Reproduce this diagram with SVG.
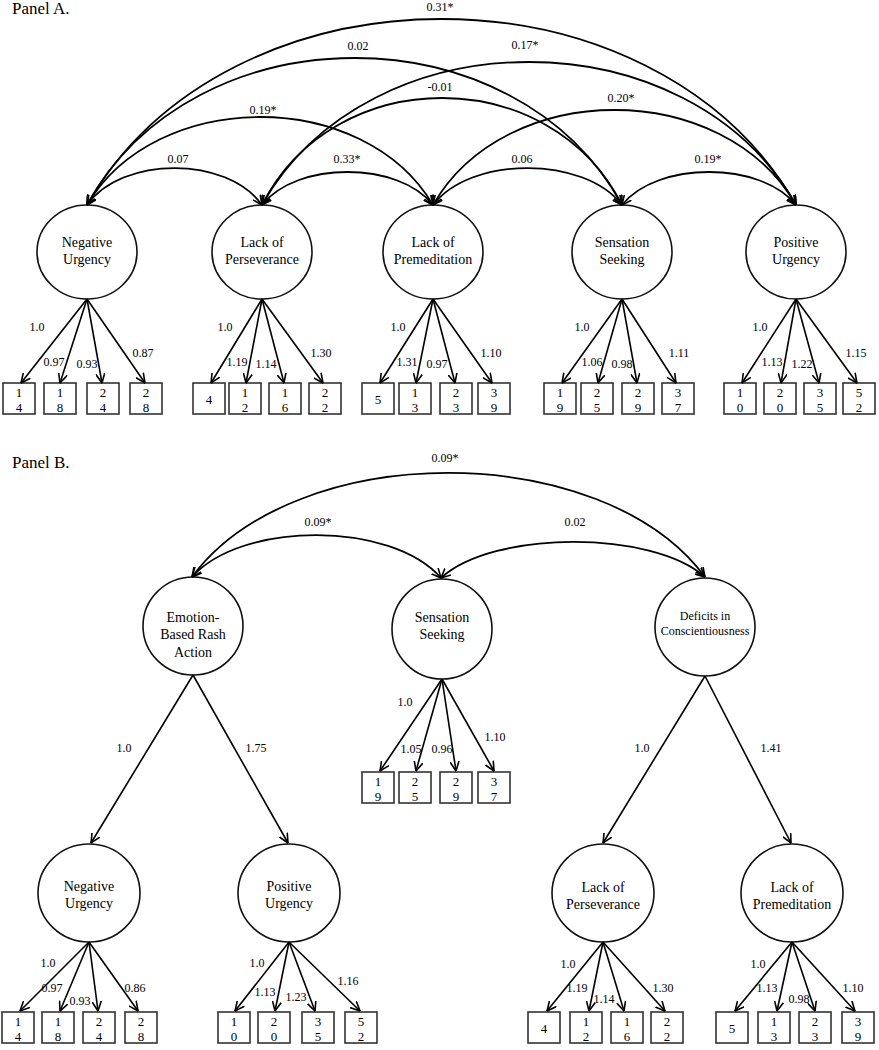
<svg xmlns="http://www.w3.org/2000/svg" width="879" height="1050" viewBox="0 0 879 1050">
<style>
text{font-family:"Liberation Serif","Times New Roman",serif;fill:#000;text-anchor:middle}
.c{fill:#fff;stroke:#111;stroke-width:1.6}
.b{fill:#fff;stroke:#333;stroke-width:1.6}
.t{font-size:14px}
.s{font-size:12px}
.n{font-size:12px}
.d{font-size:13px}
.p{font-size:17px;text-anchor:start}
.a{fill:none;stroke:#000;stroke-width:1.8;marker-start:url(#ah);marker-end:url(#ah)}
.l{fill:none;stroke:#000;stroke-width:1.6;marker-end:url(#ah)}
</style>
<defs>
<marker id="ah" viewBox="0 0 10 10" refX="9.5" refY="5" markerWidth="10" markerHeight="10" markerUnits="userSpaceOnUse" orient="auto-start-reverse">
<path d="M0,0.5 L9.5,5 L0,9.5" fill="none" stroke="#000" stroke-width="1.6"/>
</marker>
</defs>
<rect width="879" height="1050" fill="#fff"/>
<text class="p" x="12" y="14">Panel A.</text>
<text class="p" x="12" y="468">Panel B.</text>

<!-- Panel A latent nodes -->
<g id="A_NU"><ellipse class="c" cx="87" cy="252" rx="50" ry="47"/><text class="t" x="87" y="247">Negative</text><text class="t" x="87" y="264">Urgency</text></g>
<g id="A_LP"><ellipse class="c" cx="262" cy="252" rx="50" ry="47"/><text class="t" x="262" y="247">Lack of</text><text class="t" x="262" y="264">Perseverance</text></g>
<g id="A_LPr"><ellipse class="c" cx="433" cy="252" rx="50" ry="47"/><text class="t" x="433" y="247">Lack of</text><text class="t" x="433" y="264">Premeditation</text></g>
<g id="A_SS"><ellipse class="c" cx="622" cy="252" rx="50" ry="47"/><text class="t" x="622" y="247">Sensation</text><text class="t" x="622" y="264">Seeking</text></g>
<g id="A_PU"><ellipse class="c" cx="796" cy="252" rx="50" ry="47"/><text class="t" x="796" y="247">Positive</text><text class="t" x="796" y="264">Urgency</text></g>

<!-- Panel A indicator boxes -->
<g id="A_i14"><rect class="b" x="3" y="383" width="32" height="31"/><text class="d" x="19" y="397">1</text><text class="d" x="19" y="412">4</text></g>
<g id="A_i18"><rect class="b" x="44" y="383" width="32" height="31"/><text class="d" x="60" y="397">1</text><text class="d" x="60" y="412">8</text></g>
<g id="A_i24"><rect class="b" x="87" y="383" width="32" height="31"/><text class="d" x="103" y="397">2</text><text class="d" x="103" y="412">4</text></g>
<g id="A_i28"><rect class="b" x="130" y="383" width="32" height="31"/><text class="d" x="146" y="397">2</text><text class="d" x="146" y="412">8</text></g>

<g id="A_i4"><rect class="b" x="193" y="383" width="32" height="31"/><text class="d" x="209" y="404">4</text></g>
<g id="A_i12"><rect class="b" x="229" y="383" width="32" height="31"/><text class="d" x="245" y="397">1</text><text class="d" x="245" y="412">2</text></g>
<g id="A_i16"><rect class="b" x="269" y="383" width="32" height="31"/><text class="d" x="285" y="397">1</text><text class="d" x="285" y="412">6</text></g>
<g id="A_i22"><rect class="b" x="309" y="383" width="32" height="31"/><text class="d" x="325" y="397">2</text><text class="d" x="325" y="412">2</text></g>

<g id="A_i5"><rect class="b" x="362" y="383" width="32" height="31"/><text class="d" x="378" y="404">5</text></g>
<g id="A_i13"><rect class="b" x="399" y="383" width="32" height="31"/><text class="d" x="415" y="397">1</text><text class="d" x="415" y="412">3</text></g>
<g id="A_i23"><rect class="b" x="440" y="383" width="32" height="31"/><text class="d" x="456" y="397">2</text><text class="d" x="456" y="412">3</text></g>
<g id="A_i39"><rect class="b" x="478" y="383" width="32" height="31"/><text class="d" x="494" y="397">3</text><text class="d" x="494" y="412">9</text></g>

<g id="A_i19"><rect class="b" x="544" y="383" width="32" height="31"/><text class="d" x="560" y="397">1</text><text class="d" x="560" y="412">9</text></g>
<g id="A_i25"><rect class="b" x="581" y="383" width="32" height="31"/><text class="d" x="597" y="397">2</text><text class="d" x="597" y="412">5</text></g>
<g id="A_i29"><rect class="b" x="622" y="383" width="32" height="31"/><text class="d" x="638" y="397">2</text><text class="d" x="638" y="412">9</text></g>
<g id="A_i37"><rect class="b" x="662" y="383" width="32" height="31"/><text class="d" x="678" y="397">3</text><text class="d" x="678" y="412">7</text></g>

<g id="A_i10"><rect class="b" x="724" y="383" width="32" height="31"/><text class="d" x="740" y="397">1</text><text class="d" x="740" y="412">0</text></g>
<g id="A_i20"><rect class="b" x="764" y="383" width="32" height="31"/><text class="d" x="780" y="397">2</text><text class="d" x="780" y="412">0</text></g>
<g id="A_i35"><rect class="b" x="804" y="383" width="32" height="31"/><text class="d" x="820" y="397">3</text><text class="d" x="820" y="412">5</text></g>
<g id="A_i52"><rect class="b" x="843" y="383" width="32" height="31"/><text class="d" x="859" y="397">5</text><text class="d" x="859" y="412">2</text></g>

<!-- Panel B latent nodes -->
<g id="B_ER"><ellipse class="c" cx="193" cy="626" rx="50" ry="49"/><text class="t" x="193" y="622">Emotion-</text><text class="t" x="193" y="639">Based Rash</text><text class="t" x="193" y="657">Action</text></g>
<g id="B_SS"><ellipse class="c" cx="442" cy="629" rx="50" ry="50"/><text class="t" x="442" y="622">Sensation</text><text class="t" x="442" y="639">Seeking</text></g>
<g id="B_DC"><ellipse class="c" cx="705" cy="627" rx="50" ry="49"/><text class="s" x="705" y="620">Deficits in</text><text class="s" x="705" y="635">Conscientiousness</text></g>
<g id="B_NU"><ellipse class="c" cx="89" cy="893" rx="51" ry="49"/><text class="t" x="89" y="891">Negative</text><text class="t" x="89" y="908">Urgency</text></g>
<g id="B_PU"><ellipse class="c" cx="289" cy="893" rx="51" ry="49"/><text class="t" x="289" y="891">Positive</text><text class="t" x="289" y="908">Urgency</text></g>
<g id="B_LP"><ellipse class="c" cx="603" cy="893" rx="51" ry="49"/><text class="t" x="603" y="892">Lack of</text><text class="t" x="603" y="909">Perseverance</text></g>
<g id="B_LPr"><ellipse class="c" cx="792" cy="893" rx="51" ry="49"/><text class="t" x="792" y="892">Lack of</text><text class="t" x="792" y="909">Premeditation</text></g>

<!-- Panel B indicator boxes -->
<g id="B_i19"><rect class="b" x="362" y="772" width="32" height="31"/><text class="d" x="378" y="786">1</text><text class="d" x="378" y="801">9</text></g>
<g id="B_i25"><rect class="b" x="399" y="772" width="32" height="31"/><text class="d" x="415" y="786">2</text><text class="d" x="415" y="801">5</text></g>
<g id="B_i29"><rect class="b" x="440" y="772" width="32" height="31"/><text class="d" x="456" y="786">2</text><text class="d" x="456" y="801">9</text></g>
<g id="B_i37"><rect class="b" x="478" y="772" width="32" height="31"/><text class="d" x="494" y="786">3</text><text class="d" x="494" y="801">7</text></g>

<g id="B_i14"><rect class="b" x="2" y="1012" width="32" height="31"/><text class="d" x="18" y="1026">1</text><text class="d" x="18" y="1041">4</text></g>
<g id="B_i18"><rect class="b" x="42" y="1012" width="32" height="31"/><text class="d" x="58" y="1026">1</text><text class="d" x="58" y="1041">8</text></g>
<g id="B_i24"><rect class="b" x="83" y="1012" width="32" height="31"/><text class="d" x="99" y="1026">2</text><text class="d" x="99" y="1041">4</text></g>
<g id="B_i28"><rect class="b" x="125" y="1012" width="32" height="31"/><text class="d" x="141" y="1026">2</text><text class="d" x="141" y="1041">8</text></g>

<g id="B_i10"><rect class="b" x="218" y="1012" width="32" height="31"/><text class="d" x="234" y="1026">1</text><text class="d" x="234" y="1041">0</text></g>
<g id="B_i20"><rect class="b" x="258" y="1012" width="32" height="31"/><text class="d" x="274" y="1026">2</text><text class="d" x="274" y="1041">0</text></g>
<g id="B_i35"><rect class="b" x="302" y="1012" width="32" height="31"/><text class="d" x="318" y="1026">3</text><text class="d" x="318" y="1041">5</text></g>
<g id="B_i52"><rect class="b" x="345" y="1012" width="32" height="31"/><text class="d" x="361" y="1026">5</text><text class="d" x="361" y="1041">2</text></g>

<g id="B_i4"><rect class="b" x="528" y="1012" width="32" height="31"/><text class="d" x="544" y="1033">4</text></g>
<g id="B_i12"><rect class="b" x="570" y="1012" width="32" height="31"/><text class="d" x="586" y="1026">1</text><text class="d" x="586" y="1041">2</text></g>
<g id="B_i16"><rect class="b" x="611" y="1012" width="32" height="31"/><text class="d" x="627" y="1026">1</text><text class="d" x="627" y="1041">6</text></g>
<g id="B_i22"><rect class="b" x="651" y="1012" width="32" height="31"/><text class="d" x="667" y="1026">2</text><text class="d" x="667" y="1041">2</text></g>

<g id="B_i5"><rect class="b" x="716" y="1012" width="32" height="31"/><text class="d" x="732" y="1033">5</text></g>
<g id="B_i13"><rect class="b" x="758" y="1012" width="32" height="31"/><text class="d" x="774" y="1026">1</text><text class="d" x="774" y="1041">3</text></g>
<g id="B_i23"><rect class="b" x="799" y="1012" width="32" height="31"/><text class="d" x="815" y="1026">2</text><text class="d" x="815" y="1041">3</text></g>
<g id="B_i39"><rect class="b" x="842" y="1012" width="32" height="31"/><text class="d" x="858" y="1026">3</text><text class="d" x="858" y="1041">9</text></g>

<!-- Connectors -->
<g id="connectors">
<path class="a" d="M87,205 C122,155.7 227,155.7 262,205"/>
<path class="a" d="M262,205 C296.2,161 398.8,161 433,205"/>
<path class="a" d="M433,205 C470.8,155.7 584.2,155.7 622,205"/>
<path class="a" d="M622,205 C656.8,161 761.2,161 796,205"/>
<path class="a" d="M87,205 C156.2,87.7 363.8,87.7 433,205"/>
<path class="a" d="M262,205 C334,62.3 550,62.3 622,205"/>
<path class="a" d="M433,205 C505.6,78.3 723.4,78.3 796,205"/>
<path class="a" d="M87,205 C194,9 515,9 622,205"/>
<path class="a" d="M262,205 C368.8,14.3 689.2,14.3 796,205"/>
<path class="a" d="M87,205 C228.8,-43 654.2,-43 796,205"/>

<line class="l" x1="87" y1="299" x2="21" y2="383"/>
<line class="l" x1="87" y1="299" x2="60" y2="383"/>
<line class="l" x1="87" y1="299" x2="102" y2="383"/>
<line class="l" x1="87" y1="299" x2="145" y2="383"/>
<line class="l" x1="262" y1="299" x2="211" y2="383"/>
<line class="l" x1="262" y1="299" x2="246" y2="383"/>
<line class="l" x1="262" y1="299" x2="284" y2="383"/>
<line class="l" x1="262" y1="299" x2="323" y2="383"/>
<line class="l" x1="433" y1="299" x2="380" y2="383"/>
<line class="l" x1="433" y1="299" x2="416" y2="383"/>
<line class="l" x1="433" y1="299" x2="455" y2="383"/>
<line class="l" x1="433" y1="299" x2="492" y2="383"/>
<line class="l" x1="622" y1="299" x2="562" y2="383"/>
<line class="l" x1="622" y1="299" x2="598" y2="383"/>
<line class="l" x1="622" y1="299" x2="637" y2="383"/>
<line class="l" x1="622" y1="299" x2="676" y2="383"/>
<line class="l" x1="796" y1="299" x2="742" y2="383"/>
<line class="l" x1="796" y1="299" x2="781" y2="383"/>
<line class="l" x1="796" y1="299" x2="819" y2="383"/>
<line class="l" x1="796" y1="299" x2="857" y2="383"/>

<path class="a" d="M192,577 C294.6,438.3 602.4,438.3 705,577"/>
<path class="a" d="M192,577 C241.8,521 391.2,521 441,578"/>
<path class="a" d="M441,578 C493.8,530 652.2,530 705,577"/>

<line class="l" x1="193" y1="675" x2="91" y2="843"/>
<line class="l" x1="193" y1="675" x2="288" y2="843"/>
<line class="l" x1="705" y1="676" x2="603" y2="843"/>
<line class="l" x1="705" y1="676" x2="791" y2="843"/>

<line class="l" x1="442" y1="679" x2="380" y2="771"/>
<line class="l" x1="442" y1="679" x2="416" y2="771"/>
<line class="l" x1="442" y1="679" x2="456" y2="771"/>
<line class="l" x1="442" y1="679" x2="494" y2="771"/>

<line class="l" x1="89" y1="942" x2="20" y2="1011"/>
<line class="l" x1="89" y1="942" x2="60" y2="1011"/>
<line class="l" x1="89" y1="942" x2="98" y2="1011"/>
<line class="l" x1="89" y1="942" x2="138" y2="1011"/>
<line class="l" x1="289" y1="942" x2="235" y2="1011"/>
<line class="l" x1="289" y1="942" x2="275" y2="1011"/>
<line class="l" x1="289" y1="942" x2="315" y2="1011"/>
<line class="l" x1="289" y1="942" x2="360" y2="1011"/>
<line class="l" x1="603" y1="942" x2="547" y2="1011"/>
<line class="l" x1="603" y1="942" x2="589" y2="1011"/>
<line class="l" x1="603" y1="942" x2="624" y2="1011"/>
<line class="l" x1="603" y1="942" x2="665" y2="1011"/>
<line class="l" x1="792" y1="942" x2="735" y2="1011"/>
<line class="l" x1="792" y1="942" x2="777" y2="1011"/>
<line class="l" x1="792" y1="942" x2="815" y2="1011"/>
<line class="l" x1="792" y1="942" x2="855" y2="1011"/>
</g>

<!-- Connector labels -->
<g id="labels">
<text class="n" x="440" y="11">0.31*</text>
<text class="n" x="358" y="50">0.02</text>
<text class="n" x="525" y="49">0.17*</text>
<text class="n" x="440" y="91">-0.01</text>
<text class="n" x="621" y="102">0.20*</text>
<text class="n" x="263" y="114">0.19*</text>
<text class="n" x="178" y="163">0.07</text>
<text class="n" x="347" y="163">0.33*</text>
<text class="n" x="522" y="163">0.06</text>
<text class="n" x="708" y="163">0.19*</text>

<text class="n" x="37" y="331">1.0</text>
<text class="n" x="54" y="366">0.97</text>
<text class="n" x="87" y="368">0.93</text>
<text class="n" x="143" y="357">0.87</text>
<text class="n" x="225" y="331">1.0</text>
<text class="n" x="237" y="366">1.19</text>
<text class="n" x="266" y="368">1.14</text>
<text class="n" x="321" y="357">1.30</text>
<text class="n" x="398" y="331">1.0</text>
<text class="n" x="407" y="366">1.31</text>
<text class="n" x="437" y="368">0.97</text>
<text class="n" x="491" y="357">1.10</text>
<text class="n" x="582" y="331">1.0</text>
<text class="n" x="592" y="366">1.06</text>
<text class="n" x="622" y="368">0.98</text>
<text class="n" x="679" y="357">1.11</text>
<text class="n" x="760" y="331">1.0</text>
<text class="n" x="772" y="366">1.13</text>
<text class="n" x="802" y="368">1.22</text>
<text class="n" x="856" y="357">1.15</text>

<text class="n" x="445" y="462">0.09*</text>
<text class="n" x="318" y="526">0.09*</text>
<text class="n" x="575" y="526">0.02</text>

<text class="n" x="124" y="752">1.0</text>
<text class="n" x="256" y="752">1.75</text>
<text class="n" x="642" y="752">1.0</text>
<text class="n" x="771" y="752">1.41</text>

<text class="n" x="405" y="706">1.0</text>
<text class="n" x="411" y="753">1.05</text>
<text class="n" x="442" y="753">0.96</text>
<text class="n" x="495" y="741">1.10</text>

<text class="n" x="48" y="967">1.0</text>
<text class="n" x="52" y="992">0.97</text>
<text class="n" x="80" y="1005">0.93</text>
<text class="n" x="135" y="992">0.86</text>
<text class="n" x="257" y="967">1.0</text>
<text class="n" x="265" y="996">1.13</text>
<text class="n" x="296" y="1001">1.23</text>
<text class="n" x="348" y="985">1.16</text>
<text class="n" x="568" y="968">1.0</text>
<text class="n" x="577" y="992">1.19</text>
<text class="n" x="604" y="1003">1.14</text>
<text class="n" x="663" y="992">1.30</text>
<text class="n" x="758" y="968">1.0</text>
<text class="n" x="767" y="992">1.13</text>
<text class="n" x="799" y="1003">0.98</text>
<text class="n" x="853" y="992">1.10</text>
</g>
</svg>
